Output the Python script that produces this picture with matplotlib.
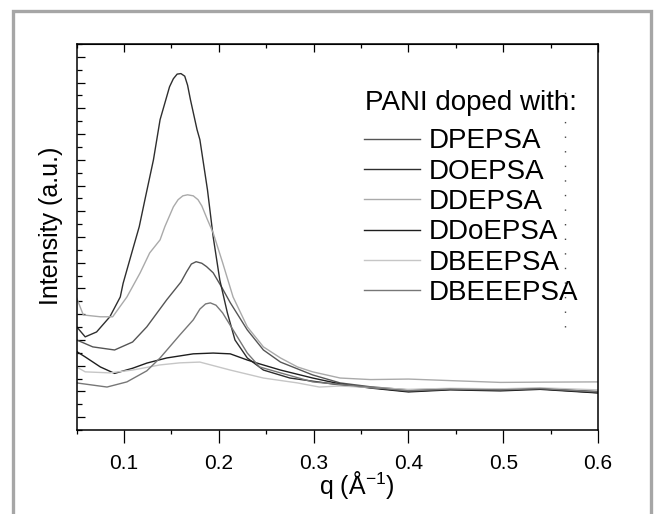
import matplotlib
matplotlib.use('Agg')
import matplotlib.pyplot as plt
from matplotlib.ticker import MultipleLocator, FormatStrFormatter, NullFormatter
from matplotlib.patches import Rectangle

plt.rcParams['font.family'] = ['Liberation Sans', 'DejaVu Sans']
plt.rcParams['mathtext.default'] = 'regular'

# Data (arbitrary intensity units) ---------------------------------------------

q_dpepsa = [0.050, 0.067, 0.090, 0.109, 0.124, 0.145, 0.160, 0.166, 0.171, 0.176, 0.182,
            0.187, 0.194, 0.203, 0.212, 0.230, 0.247, 0.265, 0.299, 0.328, 0.360, 0.400,
            0.444, 0.497, 0.539, 0.600]
i_dpepsa = [3.00, 2.73, 2.61, 2.92, 3.51, 4.56, 5.25, 5.65, 5.95, 6.04, 5.98,
            5.85, 5.61, 5.05, 4.45, 3.39, 2.61, 2.14, 1.64, 1.33, 1.18, 1.06,
            1.10, 1.08, 1.12, 1.00]

q_doepsa = [0.050, 0.059, 0.071, 0.085, 0.096, 0.099, 0.109, 0.116, 0.122, 0.131, 0.138,
            0.148, 0.152, 0.156, 0.160, 0.164, 0.167, 0.170, 0.177, 0.180, 0.188, 0.194,
            0.201, 0.209, 0.217, 0.230, 0.247, 0.275, 0.328, 0.360, 0.400, 0.444, 0.497,
            0.539, 0.600]
i_doepsa = [3.51, 3.12, 3.31, 3.90, 4.67, 5.20, 6.50, 7.40, 8.45, 10.00, 11.56,
            12.84, 13.15, 13.33, 13.35, 13.25, 12.90, 12.34, 11.17, 10.78, 8.83, 7.01,
            5.33, 4.05, 3.00, 2.30, 1.83, 1.52, 1.25, 1.15, 1.00, 1.08, 1.05,
            1.10, 0.95]

q_ddepsa = [0.050, 0.057, 0.075, 0.088, 0.103, 0.117, 0.127, 0.138, 0.143, 0.152, 0.157,
            0.162, 0.167, 0.173, 0.178, 0.182, 0.188, 0.194, 0.204, 0.215, 0.230, 0.247,
            0.265, 0.283, 0.299, 0.328, 0.360, 0.400, 0.444, 0.497, 0.539, 0.600]
i_ddepsa = [4.63, 3.97, 3.90, 3.90, 4.67, 5.61, 6.38, 6.89, 7.40, 8.17, 8.45,
            8.60, 8.64, 8.60, 8.45, 8.21, 7.67, 7.16, 6.00, 4.67, 3.51, 2.73,
            2.30, 1.95, 1.76, 1.52, 1.46, 1.48, 1.42, 1.35, 1.36, 1.37]

q_ddoepsa = [0.050, 0.059, 0.075, 0.090, 0.109, 0.124, 0.145, 0.173, 0.194, 0.212,
             0.230, 0.243, 0.265, 0.299, 0.328, 0.360, 0.400, 0.444, 0.497, 0.539, 0.600]
i_ddoepsa = [2.55, 2.34, 1.95, 1.70, 1.90, 2.10, 2.30, 2.46, 2.49, 2.46,
             2.22, 2.07, 1.83, 1.52, 1.29, 1.13, 0.98, 1.06, 1.02, 1.08, 0.94]

q_dbeepsa = [0.050, 0.059, 0.085, 0.109, 0.138, 0.159, 0.180, 0.212, 0.247, 0.283,
             0.306, 0.328, 0.360, 0.400, 0.444, 0.497, 0.539, 0.600]
i_dbeepsa = [1.95, 1.76, 1.72, 1.83, 2.03, 2.11, 2.14, 1.83, 1.52, 1.33,
             1.17, 1.21, 1.15, 1.08, 1.12, 1.10, 1.14, 1.06]

q_dbeeepsa = [0.050, 0.082, 0.103, 0.124, 0.138, 0.145, 0.159, 0.173, 0.180, 0.186, 0.191,
              0.197, 0.204, 0.215, 0.230, 0.243, 0.265, 0.299, 0.328, 0.360, 0.400, 0.444,
              0.497, 0.539, 0.600]
i_dbeeepsa = [1.33, 1.17, 1.37, 1.80, 2.30, 2.60, 3.20, 3.78, 4.20, 4.40, 4.44,
              4.35, 4.05, 3.39, 2.49, 1.95, 1.72, 1.37, 1.27, 1.16, 1.02, 1.09,
              1.06, 1.11, 0.98]

labels = ['DPEPSA', 'DOEPSA', 'DDEPSA', 'DDoEPSA', 'DBEEPSA', 'DBEEEPSA']
colors = ['#555555', '#2e2e2e', '#aaaaaa', '#1e1e1e', '#c6c6c6', '#777777']

# Plot --------------------------------------------------------------------------

fig = plt.figure(figsize=(6.57, 5.14), dpi=100)
ax = fig.add_axes([0.1167, 0.1634, 0.7935, 0.7510])

series = [(q_dpepsa, i_dpepsa), (q_doepsa, i_doepsa), (q_ddepsa, i_ddepsa),
          (q_ddoepsa, i_ddoepsa), (q_dbeepsa, i_dbeepsa), (q_dbeeepsa, i_dbeeepsa)]
for (q, i), lab, c in zip(series, labels, colors):
    ax.plot(q, i, color=c, lw=1.0, label=lab)

# dotted vertical line on the right
ax.plot([0.5655, 0.5655], [3.5, 13.05], color='#444444', lw=1.0,
        linestyle=(0, (1, 9.5)))

ax.set_xlim(0.05, 0.6)
ax.set_ylim(-0.5, 14.5)

ax.xaxis.set_major_locator(MultipleLocator(0.1))
ax.xaxis.set_minor_locator(MultipleLocator(0.05))
ax.xaxis.set_major_formatter(FormatStrFormatter('%.1f'))
ax.yaxis.set_major_locator(MultipleLocator(1))
ax.yaxis.set_minor_locator(MultipleLocator(0.5))
ax.yaxis.set_major_formatter(NullFormatter())

ax.tick_params(axis='x', which='major', direction='out', length=9, width=0.9,
               labelsize=15, pad=8, top=False)
ax.tick_params(axis='x', which='minor', direction='out', length=3, width=0.9, top=False)
ax.tick_params(axis='y', which='major', direction='in', length=6, width=0.9, right=False)
ax.tick_params(axis='y', which='minor', direction='in', length=3.5, width=0.9, right=False)

top = ax.secondary_xaxis('top')
top.xaxis.set_major_locator(MultipleLocator(0.1))
top.xaxis.set_minor_locator(MultipleLocator(0.05))
top.tick_params(which='major', direction='in', length=6, width=0.9, labeltop=False)
top.tick_params(which='minor', direction='in', length=3, width=0.9)

for s in ax.spines.values():
    s.set_linewidth(1.1)

ax.set_xlabel('q (Å$^{-1}$)', fontsize=18)
ax.xaxis.set_label_coords(0.538, -0.10)
ax.set_ylabel('Intensity (a.u.)', fontsize=18)
ax.yaxis.set_label_coords(-0.027, 0.53)

# legend title as its own text, entries below it
ax.text(0.553, 0.8297, 'PANI doped with:', fontsize=20, ha='left', va='baseline',
        transform=ax.transAxes)
ax.legend(loc='upper left', bbox_to_anchor=(0.552, 0.7812),
          frameon=False, fontsize=20, handlelength=2.0,
          handletextpad=0.32, labelspacing=0.155, borderpad=0, borderaxespad=0)

# gray frame around the figure
fig.add_artist(Rectangle((13 / 657, -0.1), (651 - 13) / 657, 1 - 11 / 514 + 0.1,
                         transform=fig.transFigure, fill=False, ec='#a6a6a6', lw=2.4))

fig.savefig('out.png', dpi=100)
